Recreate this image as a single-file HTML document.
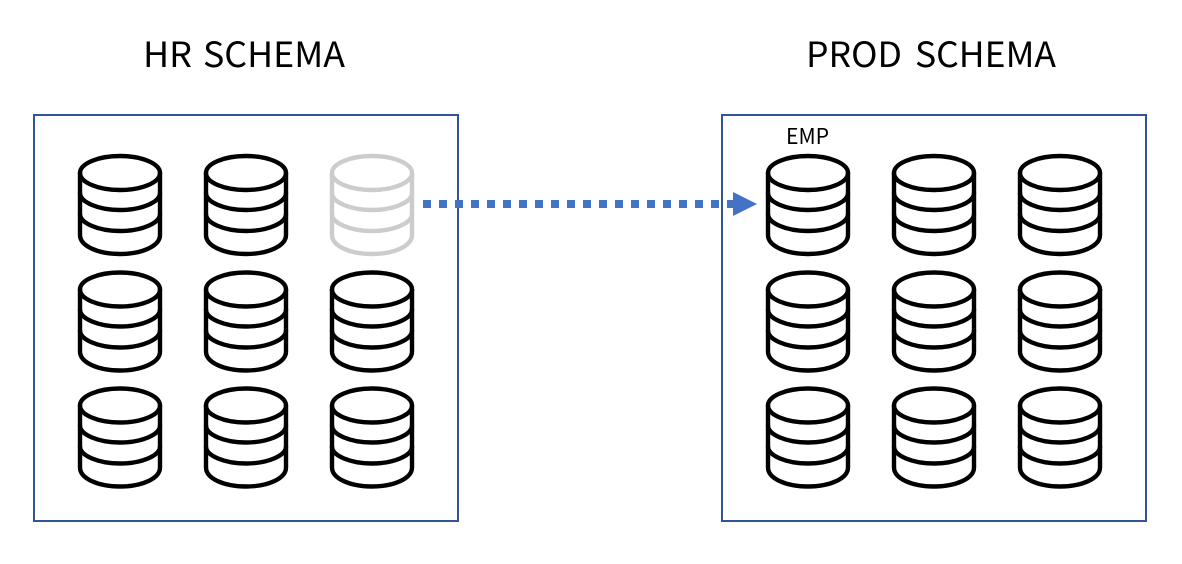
<!DOCTYPE html>
<html>
<head>
<meta charset="utf-8">
<style>
html,body{margin:0;padding:0;background:#fff;width:1182px;height:564px;overflow:hidden}
svg{display:block}
text{font-family:"Noto Sans CJK KR","Liberation Sans",sans-serif;fill:#000}
</style>
</head>
<body>
<svg width="1182" height="564" viewBox="0 0 1182 564" xmlns="http://www.w3.org/2000/svg">
<defs>
<g id="db" fill="none" stroke-width="4.4" stroke-linecap="round" stroke-linejoin="round">
<ellipse cx="0" cy="0" rx="40" ry="17"/>
<path d="M-40 0V62C-40 73 -22 81 0 81S40 73 40 62V0"/>
<path d="M-40 20C-40 29 -22 37 0 37S40 29 40 20"/>
<path d="M-40 41C-40 50 -22 58 0 58S40 50 40 41"/>
</g>
</defs>
<rect x="34" y="115" width="424" height="406" fill="none" stroke="#2f5597" stroke-width="2"/>
<rect x="722" y="115" width="424" height="406" fill="none" stroke="#2f5597" stroke-width="2"/>
<text x="143" y="67" font-size="35" textLength="49" lengthAdjust="spacingAndGlyphs">HR</text>
<text x="203" y="67" font-size="35" textLength="142" lengthAdjust="spacingAndGlyphs">SCHEMA</text>
<text x="806" y="67" font-size="35" textLength="96" lengthAdjust="spacingAndGlyphs">PROD</text>
<text x="915" y="67" font-size="35" textLength="141" lengthAdjust="spacingAndGlyphs">SCHEMA</text>
<text x="786" y="144" font-size="21.500" textLength="43" lengthAdjust="spacingAndGlyphs">EMP</text>
<g stroke="#000">
<use href="#db" x="120" y="173"/><use href="#db" x="246" y="173"/>
<use href="#db" x="120" y="289.500"/><use href="#db" x="246" y="289.500"/><use href="#db" x="372" y="289.500"/>
<use href="#db" x="120" y="405.500"/><use href="#db" x="246" y="405.500"/><use href="#db" x="372" y="405.500"/>
<use href="#db" x="808" y="173"/><use href="#db" x="934" y="173"/><use href="#db" x="1060" y="173"/>
<use href="#db" x="808" y="289.500"/><use href="#db" x="934" y="289.500"/><use href="#db" x="1060" y="289.500"/>
<use href="#db" x="808" y="405.500"/><use href="#db" x="934" y="405.500"/><use href="#db" x="1060" y="405.500"/>
</g>
<use href="#db" x="372" y="173" stroke="#cccccc"/>
<line x1="423" y1="204" x2="735" y2="204" stroke="#4472c4" stroke-width="8" stroke-dasharray="8 8"/>
<polygon points="733,192 757,204 733,216" fill="#4472c4"/>
</svg>
</body>
</html>
